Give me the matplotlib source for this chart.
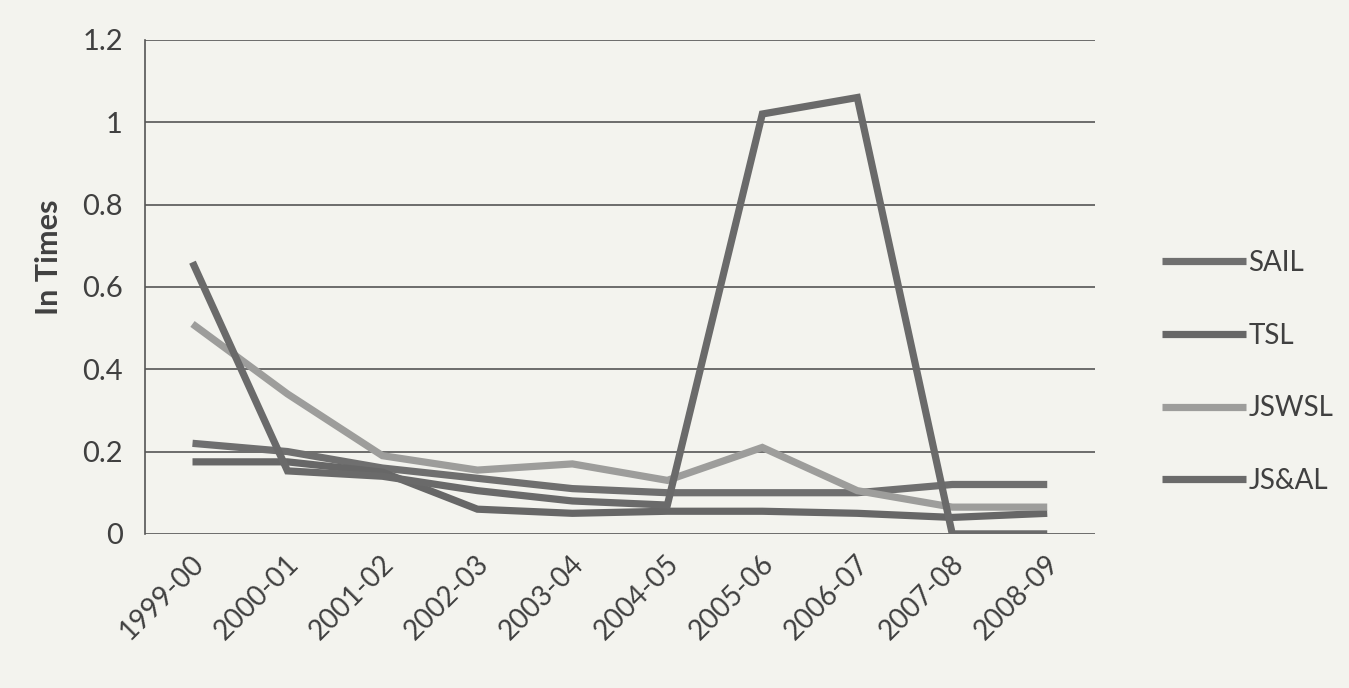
import matplotlib
matplotlib.use('Agg')
import matplotlib.pyplot as plt
import matplotlib.transforms as mtransforms
import numpy as np

plt.rcParams['font.family'] = ['Lato', 'DejaVu Sans']

# ---------------------------------------------------------------------------
# Data
# ---------------------------------------------------------------------------
years = ['1999-00', '2000-01', '2001-02', '2002-03', '2003-04',
         '2004-05', '2005-06', '2006-07', '2007-08', '2008-09']

sail  = [0.22, 0.20, 0.16, 0.135, 0.11, 0.10, 0.10, 0.10, 0.12, 0.12]
tsl   = [0.175, 0.175, 0.15, 0.06, 0.05, 0.055, 0.055, 0.05, 0.04, 0.05]
jswsl = [0.51, 0.34, 0.19, 0.155, 0.17, 0.13, 0.21, 0.105, 0.065, 0.065]
jsal  = [0.66, 0.153, 0.14, 0.105, 0.08, 0.07, 1.02, 1.06, 0.0, 0.0]

series_names = ['SAIL', 'TSL', 'JSWSL', 'JS&AL']
y_ticks = [0, 0.2, 0.4, 0.6, 0.8, 1.0, 1.2]
y_tick_labels = ['0', '0.2', '0.4', '0.6', '0.8', '1', '1.2']

_COLORS = {
    'SAIL':  '#6f6f6f',
    'TSL':   '#676767',
    'JSWSL': '#9d9d9b',
    'JS&AL': '#6a6a6a',
}
_BG = '#f3f3ee'
_TEXT = '#404040'

fig = plt.figure(figsize=(13.49, 6.88), dpi=100, facecolor=_BG)
ax = fig.add_axes([0.1075, 0.224, 0.704, 0.718])
ax.set_facecolor(_BG)

x = np.arange(len(years))
for name, values in zip(series_names, [sail, tsl, jswsl, jsal]):
    ax.plot(x, values, color=_COLORS[name], linewidth=5.2, label=name,
            solid_capstyle='butt', solid_joinstyle='miter')

ax.set_xlim(-0.5, len(years) - 0.5)
ax.set_ylim(0, 1.2)

# gridlines
for v in y_ticks:
    ax.axhline(v, color='#555555', linewidth=1.2, zorder=0)

ax.set_yticks(y_ticks)
ax.set_yticklabels(y_tick_labels, fontsize=21, color=_TEXT)
ax.tick_params(axis='y', length=0, pad=16)

ax.set_xticks(x)
ax.set_xticklabels(years, fontsize=20, color=_TEXT, rotation=45,
                   ha='right', va='top', rotation_mode='anchor')
ax.tick_params(axis='x', length=0, pad=12)
offset = mtransforms.ScaledTranslation(-0.02, 0, fig.dpi_scale_trans)
for lbl in ax.get_xticklabels():
    lbl.set_transform(lbl.get_transform() + offset)

for side in ['top', 'right', 'bottom']:
    ax.spines[side].set_visible(False)
ax.spines['left'].set_color('#555555')
ax.spines['left'].set_linewidth(1.2)

ax.set_ylabel('In Times', fontsize=22, fontweight='bold', color=_TEXT,
              labelpad=14, y=0.56)

leg = ax.legend(loc='upper left', bbox_to_anchor=(1.045, 0.625),
                frameon=False, fontsize=20, handlelength=3.0,
                handletextpad=0.1, labelspacing=1.68)
for t in leg.get_texts():
    t.set_color(_TEXT)

fig.savefig('out.png', dpi=100, facecolor=_BG)
